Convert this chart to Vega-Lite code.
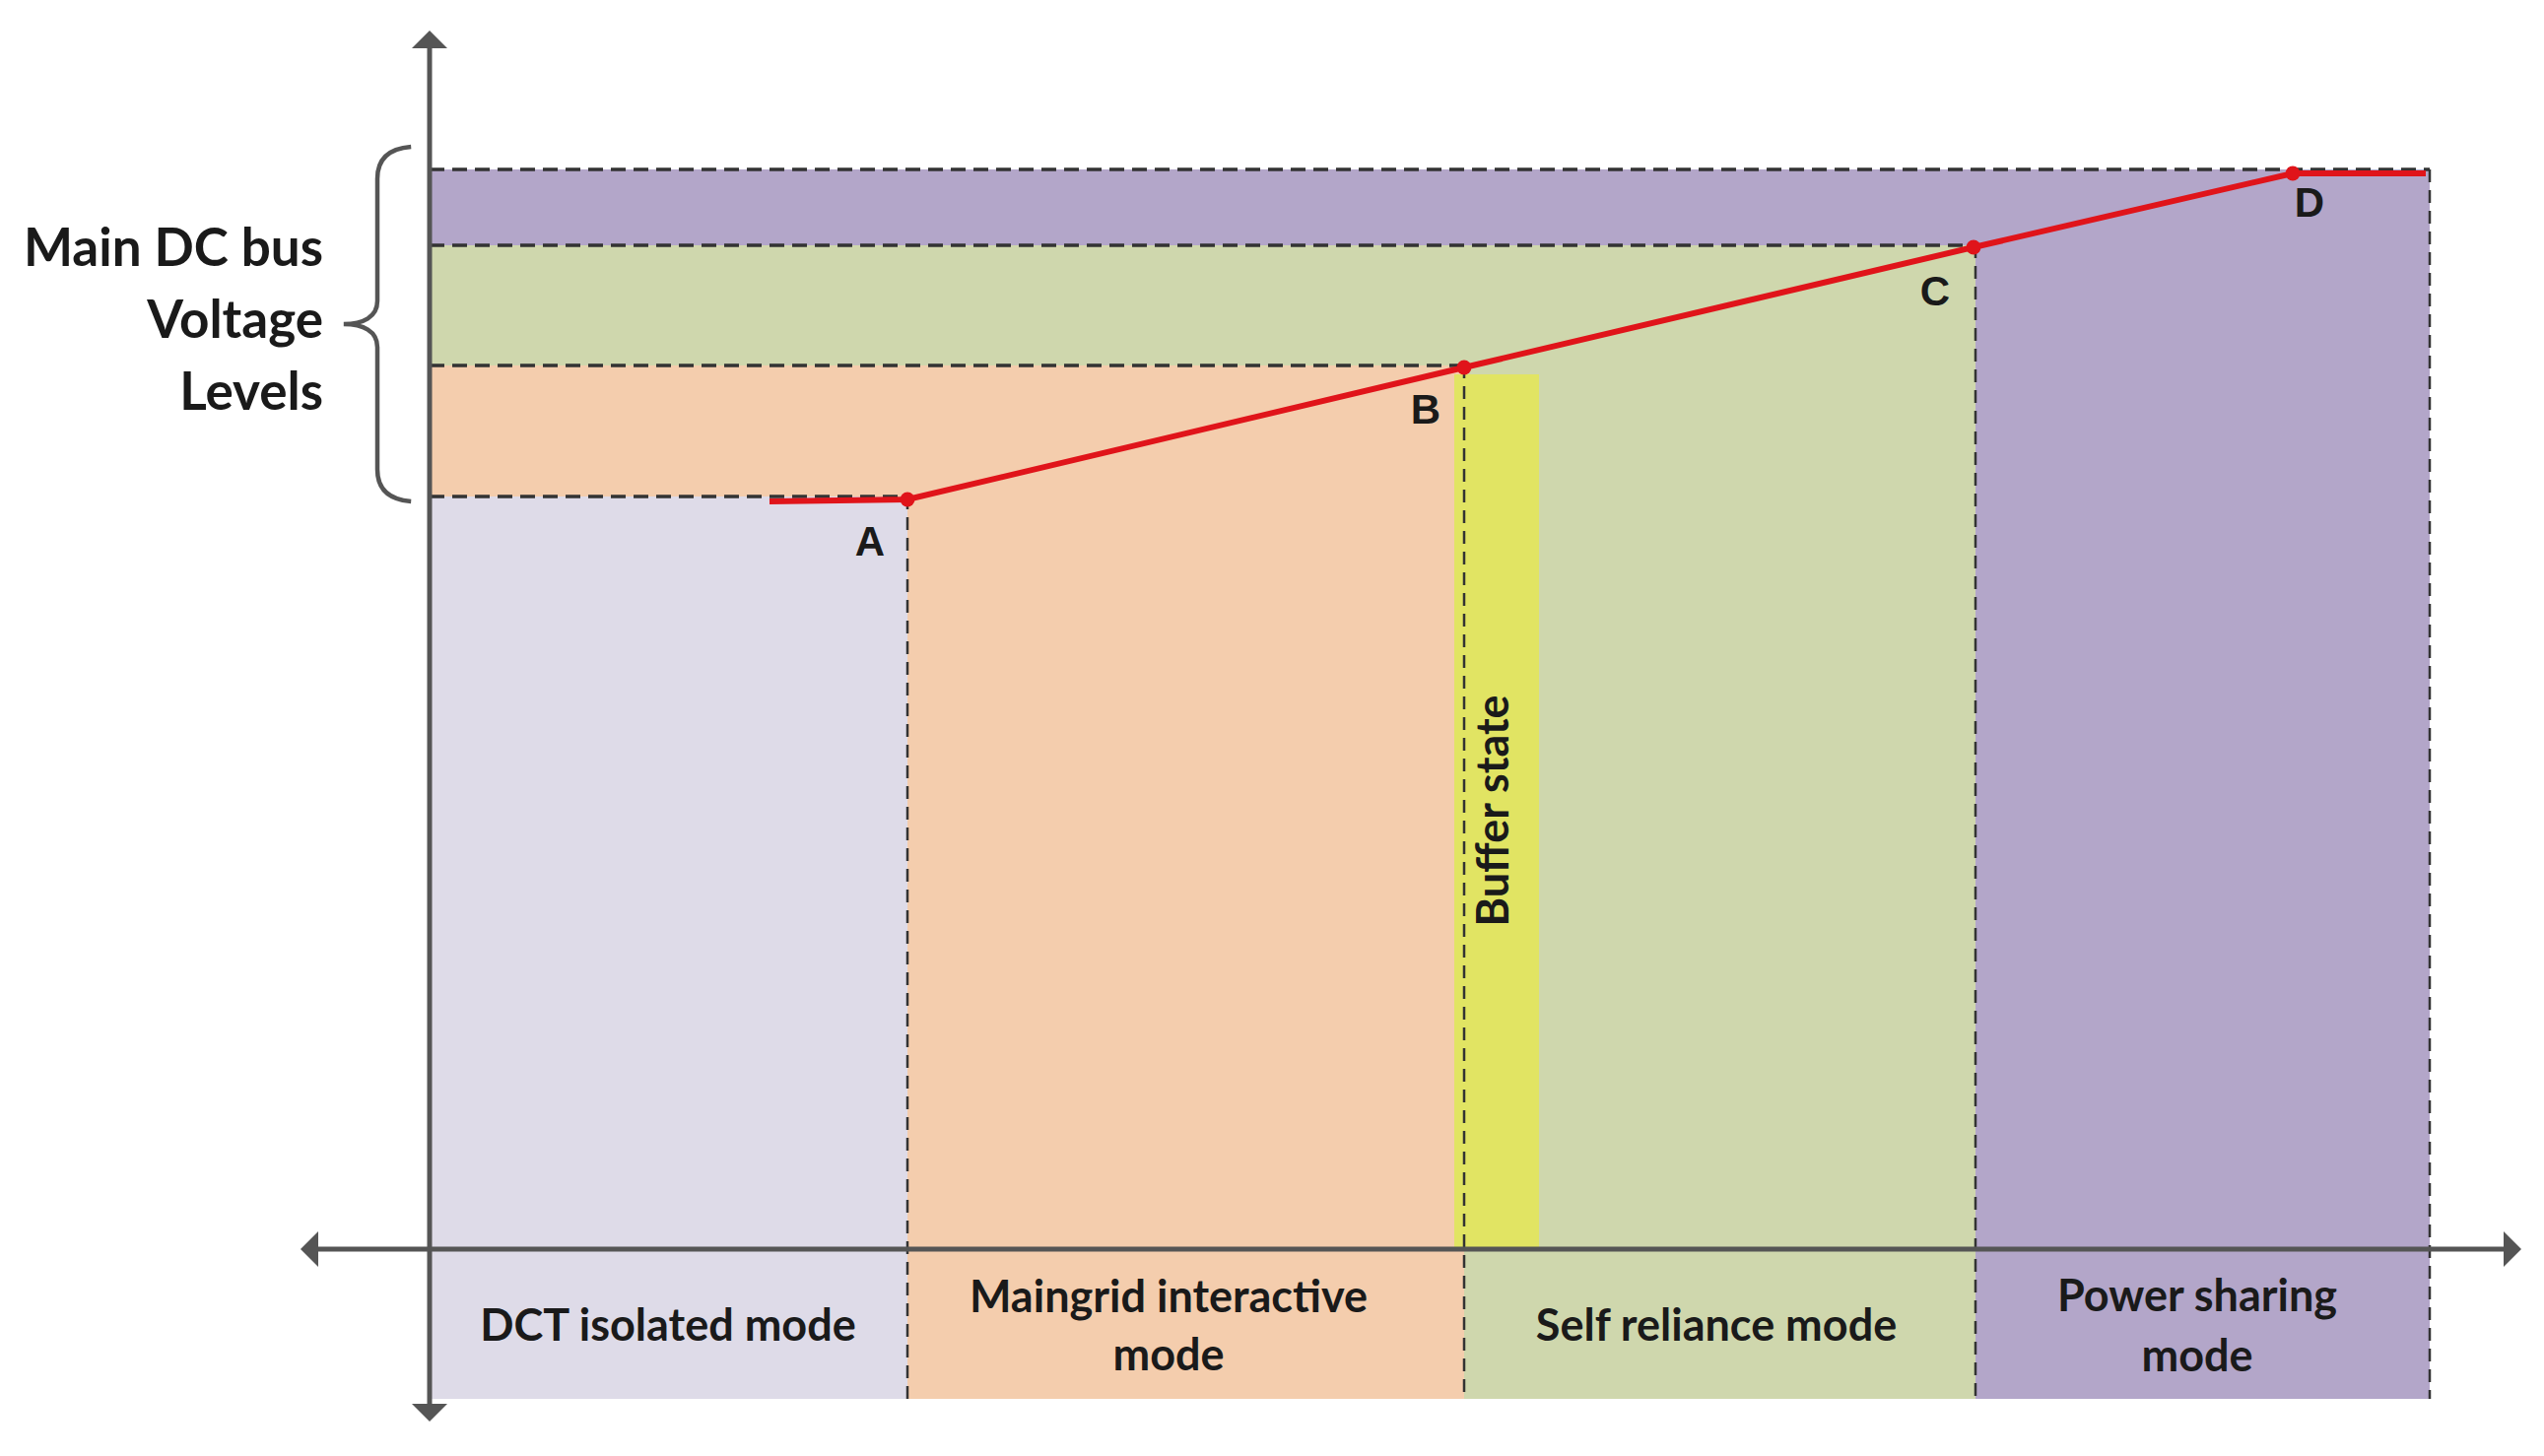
{
  "$schema": "https://vega.github.io/schema/vega-lite/v6.json",
  "width": 2582,
  "height": 1478,
  "autosize": {"type": "fit", "contains": "padding"},
  "padding": 0,
  "background": "white",
  "config": {"view": {"stroke": null}},
  "datasets": {
    "regions": [
      {"region": "Power sharing", "x": 436, "x2": 2466, "y": 172, "y2": 1420},
      {"region": "Self reliance", "x": 436, "x2": 2005, "y": 249, "y2": 1420},
      {"region": "Maingrid", "x": 436, "x2": 1486, "y": 371, "y2": 1420},
      {"region": "DCT", "x": 436, "x2": 921, "y": 504, "y2": 1420},
      {"region": "Buffer", "x": 1476, "x2": 1562, "y": 380, "y2": 1268}
    ],
    "hdash": [
      {"x": 436, "x2": 2466, "y": 172},
      {"x": 436, "x2": 2005, "y": 249},
      {"x": 436, "x2": 1486, "y": 371},
      {"x": 436, "x2": 921, "y": 504}
    ],
    "vdash": [
      {"x": 921, "y": 504, "y2": 1420},
      {"x": 1486, "y": 371, "y2": 1420},
      {"x": 2005, "y": 249, "y2": 1420},
      {"x": 2466, "y": 172, "y2": 1420}
    ],
    "axes": [
      {"x": 436, "x2": 436, "y": 40, "y2": 1434},
      {"x": 314, "x2": 2550, "y": 1268, "y2": 1268}
    ],
    "arrows": [
      {"dir": "up", "x": 436, "y": 31},
      {"dir": "down", "x": 436, "y": 1443},
      {"dir": "left", "x": 305, "y": 1268},
      {"dir": "right", "x": 2559, "y": 1268}
    ],
    "curve": [
      {"x": 781, "y": 509},
      {"x": 921, "y": 507},
      {"x": 1486, "y": 373},
      {"x": 2003, "y": 251},
      {"x": 2327, "y": 176},
      {"x": 2462, "y": 176}
    ],
    "knees": [
      {"pt": "A", "x": 921, "y": 507},
      {"pt": "B", "x": 1486, "y": 373},
      {"pt": "C", "x": 2003, "y": 251},
      {"pt": "D", "x": 2327, "y": 176}
    ],
    "letters": [
      {"text": "A", "x": 883, "y": 551},
      {"text": "B", "x": 1447, "y": 417},
      {"text": "C", "x": 1964, "y": 297},
      {"text": "D", "x": 2344, "y": 207}
    ],
    "brace": [{"x": 383, "y": 329}],
    "leftlabel": [
      {"text": "Main DC bus", "x": 328, "y": 254},
      {"text": "Voltage", "x": 328, "y": 327},
      {"text": "Levels", "x": 328, "y": 400}
    ],
    "modes": [
      {"text": "DCT isolated mode", "x": 678, "y": 1347},
      {"text": "Maingrid interactive", "x": 1186, "y": 1318},
      {"text": "mode", "x": 1186, "y": 1377},
      {"text": "Self reliance mode", "x": 1742, "y": 1347},
      {"text": "Power sharing", "x": 2230, "y": 1317},
      {"text": "mode", "x": 2230, "y": 1378}
    ],
    "buffer": [{"text": "Buffer state", "x": 1517, "y": 823}]
  },
  "encoding": {
    "x": {"field": "x", "type": "quantitative", "scale": {"domain": [0, 2582], "nice": false, "zero": false}, "axis": null},
    "y": {"field": "y", "type": "quantitative", "scale": {"domain": [0, 1478], "nice": false, "zero": false, "reverse": true}, "axis": null}
  },
  "layer": [
    {
      "data": {"name": "regions"},
      "mark": {"type": "rect", "opacity": 1},
      "encoding": {
        "x2": {"field": "x2"},
        "y2": {"field": "y2"},
        "color": {"field": "region", "type": "nominal", "legend": null,
          "scale": {"domain": ["Power sharing", "Self reliance", "Maingrid", "DCT", "Buffer"],
                    "range": ["#b3a6c9", "#cfd7ad", "#f4cdad", "#dedbe8", "#e1e463"]}}
      }
    },
    {
      "data": {"name": "hdash"},
      "mark": {"type": "rule", "color": "#333333", "strokeWidth": 3.5, "strokeDash": [15, 8]},
      "encoding": {"x2": {"field": "x2"}}
    },
    {
      "data": {"name": "vdash"},
      "mark": {"type": "rule", "color": "#333333", "strokeWidth": 2.5, "strokeDash": [13, 8]},
      "encoding": {"y2": {"field": "y2"}}
    },
    {
      "data": {"name": "axes"},
      "mark": {"type": "rule", "color": "#555555", "strokeWidth": 5},
      "encoding": {"x2": {"field": "x2"}, "y2": {"field": "y2"}}
    },
    {
      "data": {"name": "arrows"},
      "mark": {"type": "point", "filled": true, "color": "#555555", "opacity": 1, "size": 1296},
      "encoding": {
        "shape": {"field": "dir", "type": "nominal", "legend": null,
          "scale": {"domain": ["up", "down", "left", "right"],
                    "range": ["M0,0L-1,1L1,1Z", "M0,0L-1,-1L1,-1Z", "M0,0L1,-1L1,1Z", "M0,0L-1,-1L-1,1Z"]}}
      }
    },
    {
      "data": {"name": "brace"},
      "mark": {"type": "point", "filled": false, "stroke": "#555555", "strokeWidth": 4.5, "opacity": 1, "size": 129600,
        "shape": "M0.19,-1C0.06,-0.99,0,-0.93,0,-0.82L0,-0.13C0,-0.04,-0.08,0,-0.19,0C-0.08,0,0,0.04,0,0.13L0,0.82C0,0.93,0.06,0.99,0.19,1"}
    },
    {
      "data": {"name": "curve"},
      "mark": {"type": "line", "color": "#e0141a", "strokeWidth": 6},
      "encoding": {}
    },
    {
      "data": {"name": "knees"},
      "mark": {"type": "point", "filled": true, "color": "#e0141a", "opacity": 1, "size": 220}
    },
    {
      "data": {"name": "letters"},
      "mark": {"type": "text", "font": "Liberation Sans", "fontWeight": "bold", "fontSize": 42, "color": "#1a1a1a", "align": "center", "baseline": "middle"},
      "encoding": {"text": {"field": "text"}}
    },
    {
      "data": {"name": "leftlabel"},
      "mark": {"type": "text", "font": "Lato", "fontWeight": "bold", "fontSize": 53, "color": "#1a1a1a", "align": "right", "baseline": "middle"},
      "encoding": {"text": {"field": "text"}}
    },
    {
      "data": {"name": "modes"},
      "mark": {"type": "text", "font": "Lato", "fontWeight": "bold", "fontSize": 45, "color": "#1a1a1a", "align": "center", "baseline": "middle"},
      "encoding": {"text": {"field": "text"}}
    },
    {
      "data": {"name": "buffer"},
      "mark": {"type": "text", "font": "Lato", "fontWeight": "bold", "fontSize": 45, "color": "#1a1a1a", "align": "center", "baseline": "middle", "angle": 270},
      "encoding": {"text": {"field": "text"}}
    }
  ]
}
